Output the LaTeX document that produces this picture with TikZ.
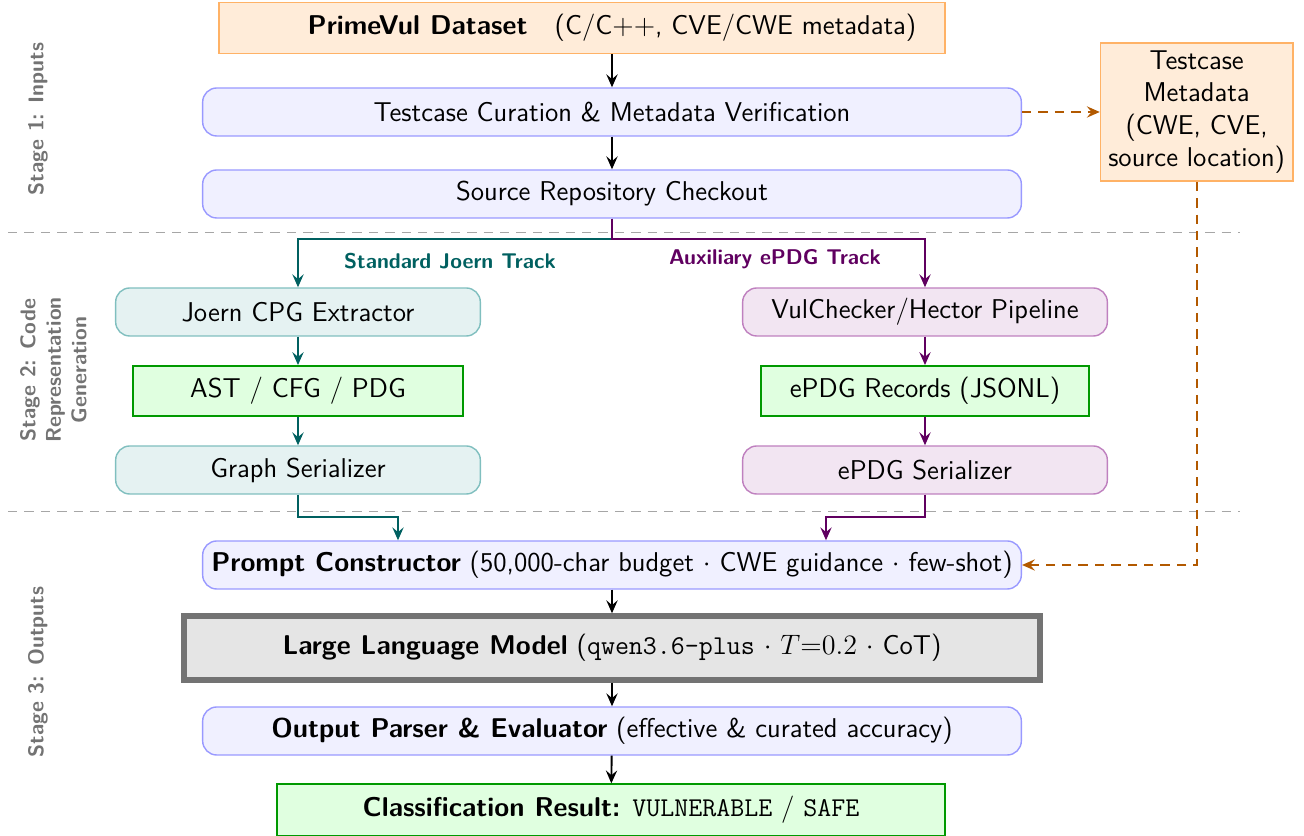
\documentclass[tikz,border=0pt]{standalone}
\usepackage{tikz}
\usetikzlibrary{arrows.meta,calc,positioning}

\newcommand{\basesize}{\fontsize{11.6}{13.8}\selectfont}
\newcommand{\labelsize}{\fontsize{9.1}{10.9}\selectfont}

\begin{document}
\begin{tikzpicture}[
        font=\sffamily\basesize,
        >={Stealth[length=5.5pt,width=4.8pt,inset=2pt]},
        flow/.style={->, thick},
        joernflow/.style={->, thick, draw=teal!75!black},
        epdgflow/.style={->, thick, draw=violet!75!black},
        metaflow/.style={->, thick, dash pattern=on 4pt off 3pt, draw=orange!70!black},
        stepbox/.style={rectangle, rounded corners=6pt, draw=blue!40, fill=blue!6, semithick, minimum width=12.28cm, minimum height=0.72cm},
        sourcebox/.style={rectangle, draw=orange!60, fill=orange!15, semithick},
        joernbox/.style={rectangle, rounded corners=6pt, draw=teal!50, fill=teal!10, semithick, minimum width=5.47cm, minimum height=0.72cm},
        epdgbox/.style={rectangle, rounded corners=6pt, draw=violet!50, fill=violet!10, semithick, minimum width=5.47cm, minimum height=0.72cm},
        databox/.style={rectangle, draw=green!60!black, fill=green!12, thick, minimum height=0.75cm},
        modelbox/.style={rectangle, draw=black!55, fill=black!10, line width=2.6pt, minimum width=12.84cm, minimum height=0.95cm},
        stagelabel/.style={rotate=90, font=\sffamily\bfseries\labelsize, text=black!55, align=center},
        tracklabel/.style={font=\sffamily\bfseries\labelsize},
        separator/.style={dash pattern=on 4pt off 3pt, black!35, thin}
    ]
    \useasboundingbox (0, 0) rectangle (19.56, -12.54);

    % Stage 1
    \node[sourcebox, minimum width=10.89cm, minimum height=0.77cm] at (8.73, -0.42) (pv) {\hspace*{0.9cm}\textbf{PrimeVul Dataset}\quad(C/C$++$, CVE/CWE metadata)};
    \node[stepbox] at (9.18, -1.68) (cur) {Testcase Curation \& Metadata Verification};
    \node[stepbox] at (9.18, -2.91) (src) {Source Repository Checkout};
    \node[sourcebox, minimum width=2.7cm, minimum height=2.01cm, align=center] at (17.95, -1.68) (meta) {Testcase\\Metadata\\(CWE, CVE,\\source location)};

    % Stage 2
    \node[joernbox] at (4.47, -4.68) (joern) {Joern CPG Extractor};
    \node[databox, minimum width=4.95cm] at (4.47, -5.865) (ast) {AST / CFG / PDG};
    \node[joernbox] at (4.47, -7.05) (gser) {Graph Serializer};
    \node[epdgbox] at (13.875, -4.68) (vul) {VulChecker/Hector Pipeline};
    \node[databox, minimum width=4.92cm] at (13.875, -5.865) (rec) {ePDG Records (JSONL)};
    \node[epdgbox] at (13.875, -7.05) (eser) {ePDG Serializer};

    % Stage 3
    \node[stepbox] at (9.18, -8.475) (prompt) {\textbf{Prompt Constructor} (50,000-char budget $\cdot$ CWE guidance $\cdot$ few-shot)};
    \node[modelbox] at (9.18, -9.72) (llm) {\textbf{Large Language Model} (\texttt{qwen3.6-plus} $\cdot$ $T{=}0.2$ $\cdot$ CoT)};
    \node[stepbox] at (9.18, -10.965) (out) {\textbf{Output Parser \& Evaluator} (effective \& curated accuracy)};
    \node[databox, minimum width=10.02cm, minimum height=0.77cm] at (9.165, -12.15) (cls) {\textbf{Classification Result:} \texttt{VULNERABLE} / \texttt{SAFE}};

    % Stage labels
    \node[stagelabel] at (0.57, -1.785) (s1) {Stage 1: Inputs};
    \node[stagelabel] at (0.8, -5.55) (s2) {Stage 2: Code\\Representation\\Generation};
    \node[stagelabel] at (0.57, -10.08) (s3) {Stage 3: Outputs};

    % Separators
    \draw[separator] (0.12, -3.48) -- (18.6, -3.48);
    \draw[separator] (0.12, -7.665) -- (18.6, -7.665);

    % Main flow
    \draw[flow] (pv.south -| cur.north) -- (cur.north);
    \draw[flow] (cur) -- (src);
    \draw[metaflow] (cur) -- (meta);

    % Tracks
    \coordinate (split) at (9.18, -3.585);
    \draw[joernflow] (src.south) -- (split) -| (joern.north);
    \draw[epdgflow] (src.south) -- (split) -| (vul.north);
    \node[tracklabel, text=teal!75!black] at (6.75, -3.915) (jtrack) {Standard Joern Track};
    \node[tracklabel, text=violet!75!black] at (11.625, -3.885) (etrack) {Auxiliary ePDG Track};

    \draw[joernflow] (joern) -- (ast);
    \draw[joernflow] (ast) -- (gser);
    \draw[epdgflow] (vul) -- (rec);
    \draw[epdgflow] (rec) -- (eser);

    \coordinate (jmerge) at (5.97, -7.755);
    \coordinate (emerge) at (12.39, -7.755);
    \draw[joernflow] (gser.south) |- (jmerge) -- (jmerge |- prompt.north);
    \draw[epdgflow] (eser.south) |- (emerge) -- (emerge |- prompt.north);
    \draw[metaflow] (meta.south) |- (prompt.east);

    \draw[flow] (prompt) -- (llm);
    \draw[flow] (llm) -- (out);
    \draw[flow] (out) -- (cls);
\end{tikzpicture}
\end{document}
